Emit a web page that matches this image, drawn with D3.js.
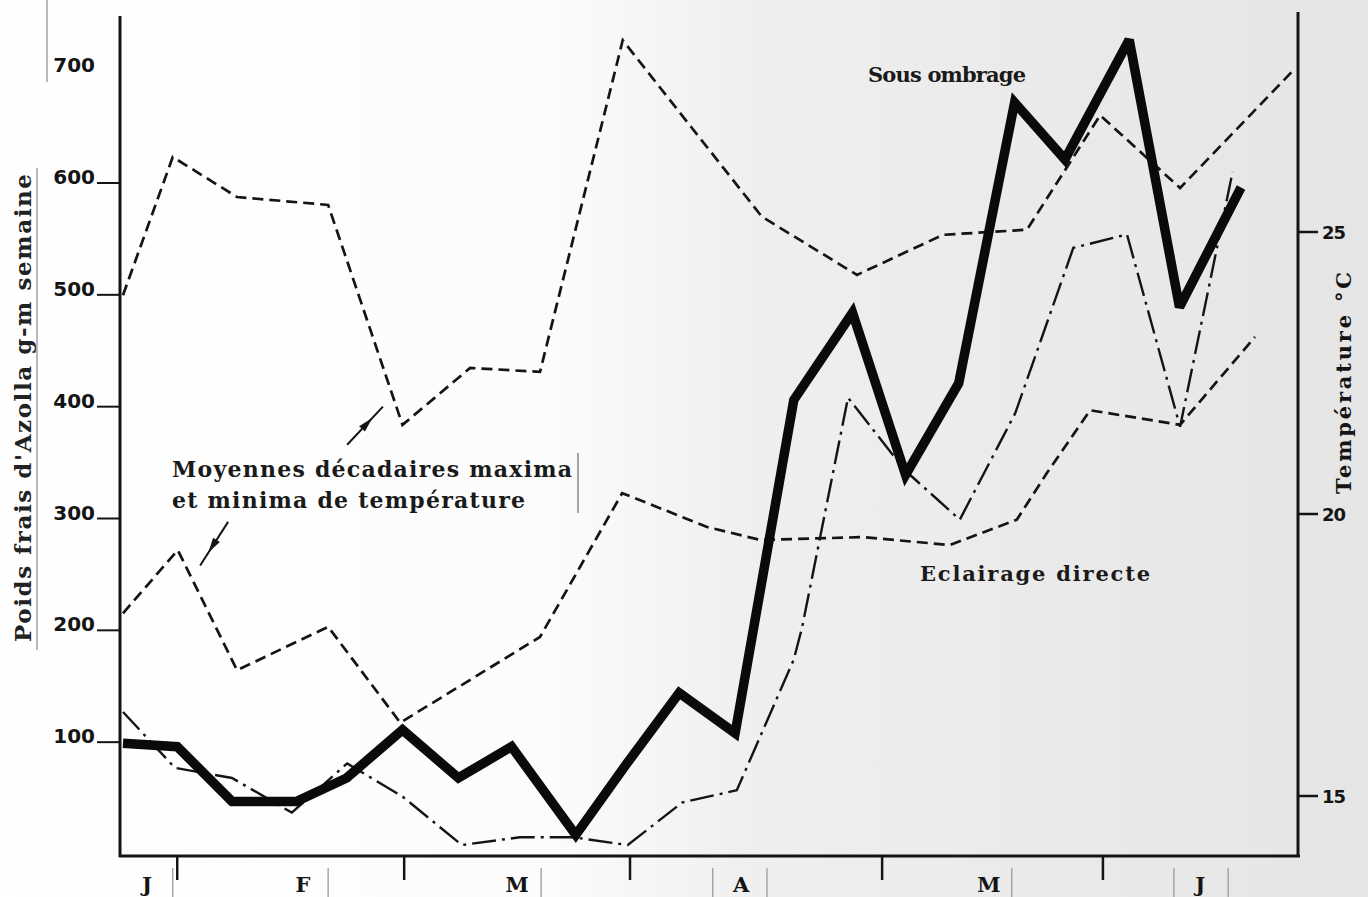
<!DOCTYPE html>
<html>
<head>
<meta charset="utf-8">
<script src="https://cdn.jsdelivr.net/npm/d3@7"></script>
<style>
  body { margin: 0; background: #fff; }
  svg { display: block; }
</style>
</head>
<body>
<div id="chart"></div>
<script>
// x = decade index (10-day periods starting early January)
// weight of fresh Azolla, g/m2/week
var shadeX = [0, 0.97, 1.95, 3.1, 4, 5, 6, 6.95, 8.1, 9, 9.95, 10.95, 12, 13.05, 14, 14.95, 15.95, 16.85, 18, 18.9, 20];
var shadeY = [99, 96, 47, 47, 68, 111, 68, 96, 17, 80, 144, 108, 406, 484, 339, 421, 672, 621, 728, 489, 596];

var directX = [0, 0.93, 1.95, 3.02, 4.01, 5.01, 6.06, 7.1, 8.05, 9.03, 10, 10.98, 12, 12.15, 12.97, 13.99, 14.97, 15.96, 17, 17.96, 18.91, 19.85];
var directY = [127, 77, 68, 37, 81, 51, 8, 15, 15, 8, 46, 57, 174, 203, 408, 343, 299, 394, 542, 554, 382, 610];

// decade means of max / min temperature, deg C
var tmaxX = [0, 0.89, 2.04, 3.67, 5, 6.21, 7.46, 8.94, 11.43, 13.13, 14.67, 16.17, 17.48, 18.91, 20.91];
var tmaxY = [23.88, 26.33, 25.62, 25.48, 21.58, 22.59, 22.52, 28.4, 25.27, 24.24, 24.95, 25.04, 27.07, 25.78, 27.84];

var tminX = [0, 0.98, 2.04, 3.67, 4.96, 7.46, 8.93, 10.45, 11.4, 13.24, 14.79, 15.99, 16.53, 17.3, 18.91, 20.25];
var tminY = [18.24, 19.36, 17.23, 18.0, 16.3, 17.82, 20.37, 19.77, 19.54, 19.59, 19.45, 19.9, 20.73, 21.84, 21.58, 23.14];

var leftTicks = [100, 200, 300, 400, 500, 600, 700];
var rightTicks = [15, 20, 25];
var monthLabels = ["J", "F", "M", "A", "M", "J"];
var monthLabelX = [0.43, 3.22, 7.05, 11.06, 15.49, 19.27];
var monthTickX = [0.97, 5.03, 9.07, 13.58, 17.53];
var monthSepX = [0.89, 3.67, 7.48, 10.55, 11.52, 15.9, 18.8, 19.77];

var svgWidth = 1368, svgHeight = 897;
var axisLeft = 120, axisRight = 1298, axisBottom = 856, axisTop = 16;

var svg = d3.select("#chart").append("svg")
  .attr("width", svgWidth)
  .attr("height", svgHeight);

// paper background, greyer on the right like the scan
var grad = svg.append("defs").append("linearGradient")
  .attr("id", "paper").attr("x1", "0").attr("x2", "1").attr("y1", "0").attr("y2", "0");
grad.append("stop").attr("offset", "0%").attr("stop-color", "#ffffff");
grad.append("stop").attr("offset", "40%").attr("stop-color", "#fcfcfc");
grad.append("stop").attr("offset", "55%").attr("stop-color", "#efefef");
grad.append("stop").attr("offset", "100%").attr("stop-color", "#e5e5e5");
svg.append("rect").attr("width", svgWidth).attr("height", svgHeight).attr("fill", "url(#paper)");

// scales
var x = d3.scaleLinear().domain([0, 20]).range([123, 1241]);
var yW = d3.scaleLinear().domain([0, 600]).range([854, 183]);
var yT = d3.scaleLinear().domain([15, 25]).range([796, 232]);

var ink = "#141414";

// axes frame
svg.append("line").attr("x1", axisLeft).attr("x2", axisLeft).attr("y1", axisTop).attr("y2", axisBottom + 1)
  .attr("stroke", ink).attr("stroke-width", 3);
svg.append("line").attr("x1", axisRight).attr("x2", axisRight).attr("y1", 12).attr("y2", axisBottom + 1)
  .attr("stroke", ink).attr("stroke-width", 3);
svg.append("line").attr("x1", axisLeft - 1).attr("x2", axisRight + 2).attr("y1", axisBottom).attr("y2", axisBottom)
  .attr("stroke", ink).attr("stroke-width", 3);

// left axis ticks and labels
svg.selectAll(".ltick").data(leftTicks.filter(d => d < 700)).enter().append("line")
  .attr("x1", 97).attr("x2", axisLeft).attr("y1", d => yW(d)).attr("y2", d => yW(d))
  .attr("stroke", ink).attr("stroke-width", 2);
svg.selectAll(".llab").data(leftTicks).enter().append("text")
  .attr("x", 95).attr("y", d => yW(d) + 1)
  .attr("text-anchor", "end")
  .attr("font-family", "DejaVu Sans, sans-serif").attr("font-weight", "bold")
  .attr("font-size", "20px").attr("fill", ink)
  .text(d => d);

// right axis ticks and labels
svg.selectAll(".rtick").data(rightTicks).enter().append("line")
  .attr("x1", axisRight).attr("x2", axisRight + 20).attr("y1", d => yT(d)).attr("y2", d => yT(d))
  .attr("stroke", ink).attr("stroke-width", 2.5);
svg.selectAll(".rlab").data(rightTicks).enter().append("text")
  .attr("x", axisRight + 24).attr("y", d => yT(d) + 7)
  .attr("font-family", "DejaVu Sans, sans-serif").attr("font-weight", "bold")
  .attr("font-size", "18px").attr("letter-spacing", "-1px").attr("fill", ink)
  .text(d => d);

// month ticks, separators and labels
svg.selectAll(".mtick").data(monthTickX).enter().append("line")
  .attr("x1", d => x(d)).attr("x2", d => x(d)).attr("y1", axisBottom).attr("y2", axisBottom + 24)
  .attr("stroke", ink).attr("stroke-width", 2.5);
svg.selectAll(".msep").data(monthSepX).enter().append("line")
  .attr("x1", d => x(d)).attr("x2", d => x(d)).attr("y1", axisBottom + 12).attr("y2", svgHeight)
  .attr("stroke", "#9a9a9a").attr("stroke-width", 1.3);
svg.selectAll(".mlab").data(monthLabels).enter().append("text")
  .attr("x", (d, i) => x(monthLabelX[i])).attr("y", axisBottom + 36)
  .attr("text-anchor", "middle")
  .attr("font-family", "DejaVu Serif, serif").attr("font-weight", "bold")
  .attr("font-size", "21px").attr("fill", ink)
  .text(d => d);

// axis titles
svg.append("text")
  .attr("transform", "translate(31, 408) rotate(-90)")
  .attr("text-anchor", "middle")
  .attr("font-family", "DejaVu Serif, serif").attr("font-weight", "bold")
  .attr("font-size", "23px").attr("fill", "#222")
  .attr("textLength", 468).attr("lengthAdjust", "spacing")
  .text("Poids frais d'Azolla g-m semaine");
svg.append("line").attr("x1", 37).attr("x2", 37).attr("y1", 168).attr("y2", 650)
  .attr("stroke", "#8a8a8a").attr("stroke-width", 1.2);
svg.append("line").attr("x1", 47).attr("x2", 47).attr("y1", 0).attr("y2", 82)
  .attr("stroke", "#8a8a8a").attr("stroke-width", 1.2);

svg.append("text")
  .attr("transform", "translate(1351, 383) rotate(-90)")
  .attr("text-anchor", "middle")
  .attr("font-family", "DejaVu Serif, serif").attr("font-weight", "bold")
  .attr("font-size", "21px").attr("fill", ink)
  .attr("textLength", 222).attr("lengthAdjust", "spacing")
  .text("Température °C");

// series
var lineW = d3.line().x(d => x(d[0])).y(d => yW(d[1]));
var lineT = d3.line().x(d => x(d[0])).y(d => yT(d[1]));

svg.append("path").datum(d3.zip(tmaxX, tmaxY))
  .attr("d", lineT).attr("fill", "none")
  .attr("stroke", ink).attr("stroke-width", 2.7).attr("stroke-dasharray", "11,6");

svg.append("path").datum(d3.zip(tminX, tminY))
  .attr("d", lineT).attr("fill", "none")
  .attr("stroke", ink).attr("stroke-width", 2.7).attr("stroke-dasharray", "11,6");

svg.append("path").datum(d3.zip(directX, directY))
  .attr("d", lineW).attr("fill", "none")
  .attr("stroke", ink).attr("stroke-width", 2.4).attr("stroke-dasharray", "24,6,3,6");

svg.append("path").datum(d3.zip(shadeX, shadeY))
  .attr("d", lineW).attr("fill", "none")
  .attr("stroke", "#0a0a0a").attr("stroke-width", 9.5).attr("stroke-linejoin", "miter")
  .attr("stroke-miterlimit", 3);

// annotation: temperature note with its two arrows
var note = svg.append("g")
  .attr("font-family", "DejaVu Serif, serif").attr("font-weight", "bold")
  .attr("font-size", "22px").attr("fill", "#1a1a1a");
note.append("text").attr("x", 172).attr("y", 477)
  .attr("textLength", 400).attr("lengthAdjust", "spacing")
  .text("Moyennes décadaires maxima");
note.append("text").attr("x", 172).attr("y", 508)
  .attr("textLength", 353).attr("lengthAdjust", "spacing")
  .text("et minima de température");
svg.append("line").attr("x1", 578).attr("x2", 578).attr("y1", 453).attr("y2", 513)
  .attr("stroke", "#777").attr("stroke-width", 1.3);

function arrow(x1, y1, x2, y2) {
  var ax1 = x(x1), ay1 = yW(y1), ax2 = x(x2), ay2 = yW(y2);
  svg.append("line").attr("x1", ax1).attr("y1", ay1).attr("x2", ax2).attr("y2", ay2)
    .attr("stroke", ink).attr("stroke-width", 2);
  var mx = ax1 + (ax2 - ax1) * 0.55, my = ay1 + (ay2 - ay1) * 0.55;
  var ang = Math.atan2(ay2 - ay1, ax2 - ax1) * 180 / Math.PI;
  svg.append("path").attr("d", "M8,0 L-7,-4 L-7,4 Z")
    .attr("transform", "translate(" + mx + "," + my + ") rotate(" + ang + ")")
    .attr("fill", ink);
}
arrow(4.01, 366, 4.65, 400);
arrow(1.88, 297, 1.38, 258);

// series labels
svg.append("text").attr("x", 868).attr("y", 82)
  .attr("font-family", "DejaVu Serif, serif").attr("font-weight", "bold")
  .attr("font-size", "21px").attr("fill", "#1a1a1a")
  .attr("textLength", 158).attr("lengthAdjust", "spacing")
  .text("Sous ombrage");
svg.append("text").attr("x", 920).attr("y", 581)
  .attr("font-family", "DejaVu Serif, serif").attr("font-weight", "bold")
  .attr("font-size", "21px").attr("fill", "#1a1a1a")
  .attr("textLength", 230).attr("lengthAdjust", "spacing")
  .text("Eclairage directe");
</script>
</body>
</html>
